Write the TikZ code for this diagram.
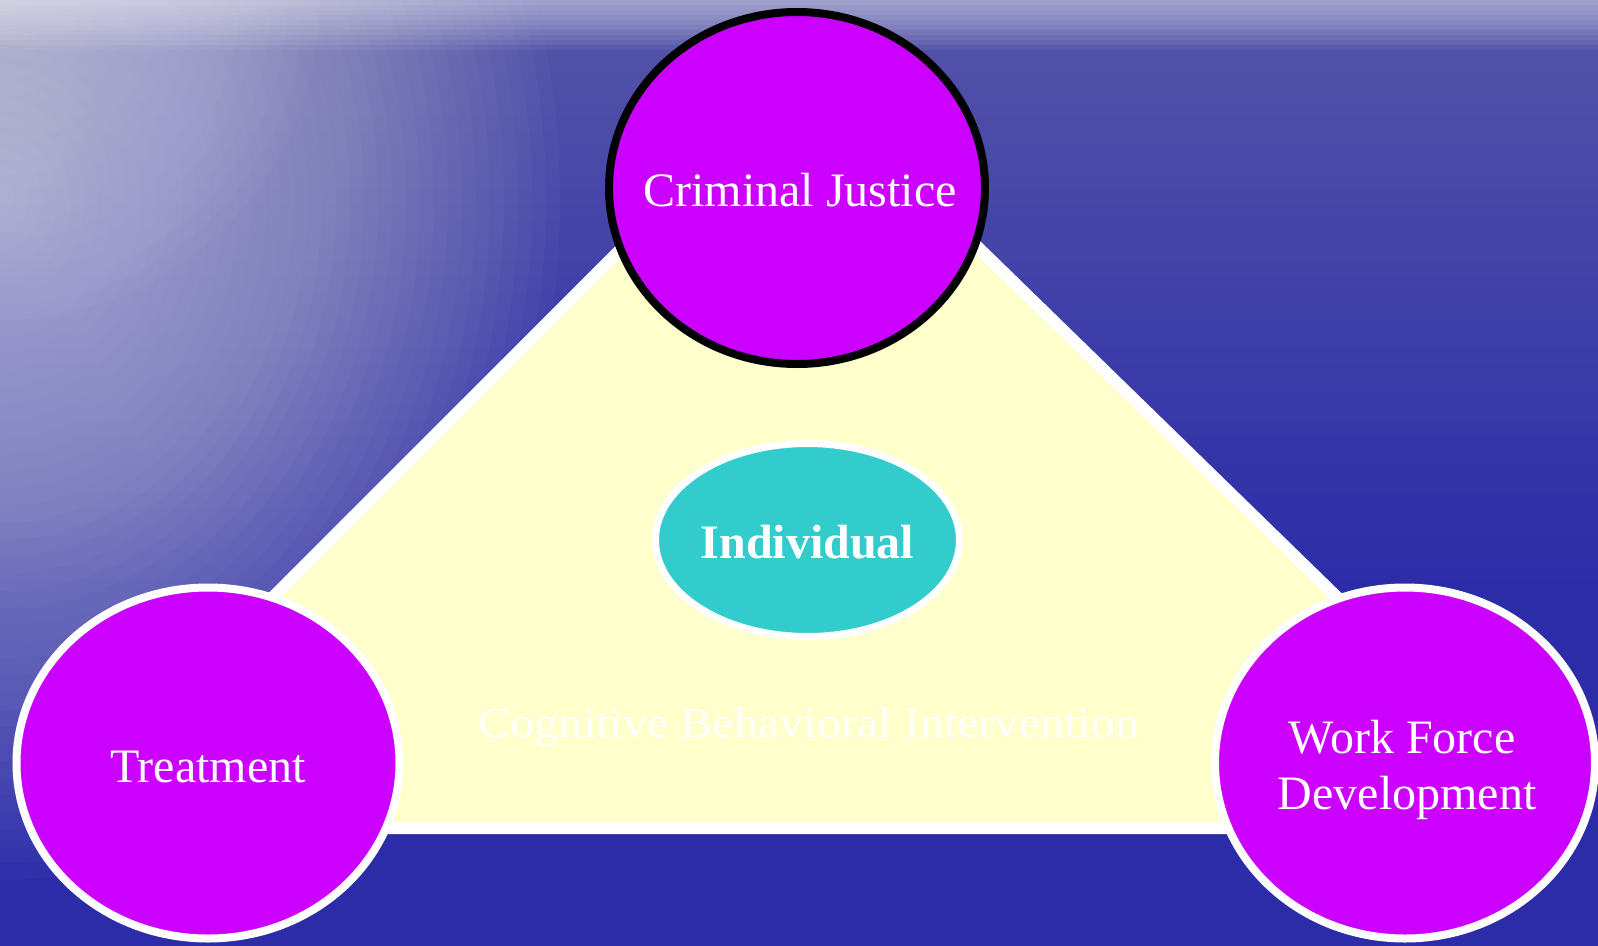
\documentclass[tikz,border=0pt]{standalone}
\usepackage{fontspec}
\setmainfont{Liberation Serif}
\usetikzlibrary{shapes.geometric}
\definecolor{sea}{HTML}{2C2CA8}
\definecolor{magentaC}{HTML}{CC00FF}
\definecolor{tealC}{HTML}{33CCCC}
\definecolor{paleY}{HTML}{FFFFCC}
\begin{document}
\begin{tikzpicture}[x=1pt,y=-1pt,
  circ/.style={ellipse, fill=magentaC, inner sep=0pt, line width=8pt},
  lbl/.style={text=white, font=\fontsize{48}{56}\selectfont, anchor=base, inner sep=0pt}]
\useasboundingbox (0,0) rectangle (1598,945);
% background sea with light reflections
\fill[sea] (-20,-20) rectangle (1620,965);
\foreach \i in {1,...,40}{
  \fill[white, opacity=0.009] (-20,-20) rectangle (1620,{14.5*\i});
  \fill[white, opacity=0.0226] (0,200) ellipse [x radius={\i*14pt}, y radius={\i*17pt}];
}
\foreach \i in {1,...,20}{
  \fill[white, opacity=0.021] (0,0) circle [radius={\i*16pt}];
}
\foreach \i in {1,...,10}{
  \fill[white, opacity=0.058] (-20,-20) rectangle (1620,{5*\i});
}
% triangle
\coordinate (apex) at (798,72);
\coordinate (bl) at (42,828);
\coordinate (br) at (1574,828);
\filldraw[fill=paleY, draw=white, line width=12pt, line join=round] (apex) -- (bl) -- (br) -- cycle;
% ellipses
\node[circ, draw=black, minimum width=376pt, minimum height=352pt] (cj) at (797,188) {};
\node[circ, draw=white, minimum width=383pt, minimum height=351pt] (tr) at (208,763) {};
\node[circ, draw=white, minimum width=380pt, minimum height=351pt] (wf) at (1405,763) {};
\node[ellipse, draw=white, fill=tealC, line width=7pt, inner sep=0pt, minimum width=304pt, minimum height=193pt] (ind) at (807.5,540) {};
% labels
\node[lbl] (cjt) at (800,206) {Criminal Justice};
\node[lbl] (trt) at (208,782) {Treatment};
\node[lbl] (wft1) at (1402,753) {Work Force};
\node[lbl] (wft2) at (1407,809) {Development};
\node[lbl, font=\bfseries\fontsize{48}{56}\selectfont] (indt) at (807.5,558) {Individual};
\node[lbl, font=\fontsize{43}{50}\selectfont, xscale=1.12] (cbi) at (809,737) {Cognitive Behavioral Intervention};
\end{tikzpicture}
\end{document}
